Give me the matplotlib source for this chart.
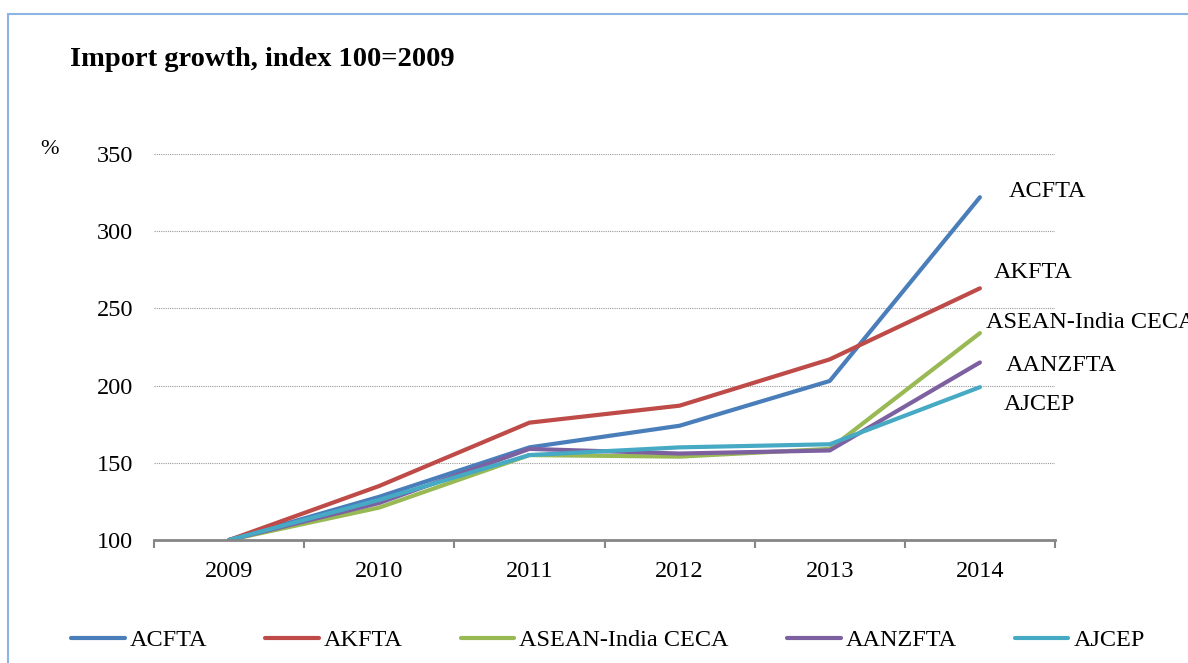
import matplotlib.pyplot as plt
from matplotlib.patches import Rectangle
import numpy as np

plt.rcParams['font.family'] = ['Liberation Serif', 'DejaVu Serif']

years = ['2009', '2010', '2011', '2012', '2013', '2014']
acfta = [100, 128, 160, 174, 203, 322]
akfta = [100, 135, 176, 187, 217, 263]
india = [100, 121, 155, 154, 159, 234]
aanzfta = [100, 124, 159, 156, 158, 215]
ajcep = [100, 126, 155, 160, 162, 199]

names = ['ACFTA', 'AKFTA', 'ASEAN-India CECA', 'AANZFTA', 'AJCEP']
colors = ['#4a7ebb', '#be4b48', '#98b954', '#7d60a0', '#46aac5']
series = [acfta, akfta, india, aanzfta, ajcep]

fig = plt.figure(figsize=(11.88, 6.63), dpi=100)
ax = fig.add_axes([154 / 1188, 1 - 540 / 663, 901 / 1188, 386 / 663])

x = np.arange(len(years))
for vals, name, c in zip(series, names, colors):
    ax.plot(x, vals, color=c, lw=3, label=name, solid_capstyle='round')

ax.set_xlim(-0.5, 5.5)
ax.set_ylim(100, 350)
ax.set_yticks([100, 150, 200, 250, 300, 350])
ax.set_xticks(x)
ax.set_xticklabels(years)
ax.set_xticks(np.arange(-0.5, 6, 1), minor=True)
ax.tick_params(axis='x', which='major', length=0, pad=15, labelsize=17.5)
ax.tick_params(axis='x', which='minor', length=6, width=1.5, color='#868686')
ax.tick_params(axis='y', length=0, pad=15, labelsize=17.5)
for s in ['top', 'right', 'left']:
    ax.spines[s].set_visible(False)
ax.spines['bottom'].set_color('#868686')
ax.spines['bottom'].set_linewidth(2)
ax.yaxis.grid(True, linestyle=(0, (1, 1)), color='#999999', lw=0.8)
ax.set_axisbelow(True)

# end labels
label_pos = [(5.19, 326), (5.09, 273), (5.04, 241), (5.17, 213), (5.16, 188)]
for name, (lx, ly) in zip(names, label_pos):
    ax.text(lx, ly, name, fontsize=17.5, ha='left', va='center', clip_on=False)

fig.text(70 / 1188, 1 - 60 / 663, 'Import growth, index 100=2009', fontsize=20.5,
         fontweight='bold', va='center')
fig.text(40 / 1188, 1 - 150 / 663, '%', fontsize=16, va='center')

fig.legend(loc='center', bbox_to_anchor=(608 / 1188, 1 - 640 / 663), ncol=5,
           frameon=False, fontsize=17.5, handlelength=2.2, columnspacing=2.4,
           handletextpad=0.2)

fig.patches.append(Rectangle((8 / 1188, -0.1), 1.2, 1 - 14 / 663 + 0.1,
                             transform=fig.transFigure, fill=False,
                             edgecolor='#8eb4e3', lw=1.5))

fig.savefig('out.png', dpi=100)
